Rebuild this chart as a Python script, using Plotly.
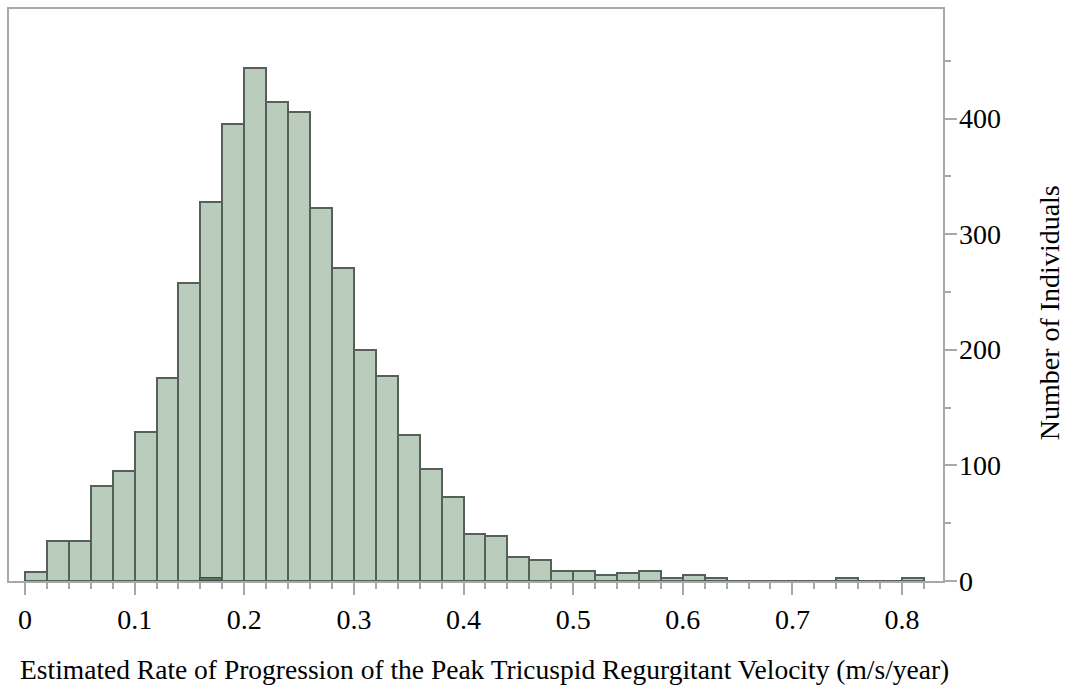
import plotly.graph_objects as go

bin_left = [0.00, 0.02, 0.04, 0.06, 0.08, 0.10, 0.12, 0.14, 0.16, 0.18,
            0.20, 0.22, 0.24, 0.26, 0.28, 0.30, 0.32, 0.34, 0.36, 0.38,
            0.40, 0.42, 0.44, 0.46, 0.48, 0.50, 0.52, 0.54, 0.56, 0.58,
            0.60, 0.62, 0.64, 0.66, 0.68, 0.70, 0.72, 0.74, 0.76, 0.78,
            0.80]
counts = [8, 35, 35, 82, 95, 129, 176, 258, 328, 395,
          444, 414, 406, 323, 271, 200, 177, 126, 97, 73,
          41, 39, 21, 18, 9, 9, 5, 7, 9, 3,
          5, 3, 0, 0, 0, 0, 0, 3, 0, 0,
          3]
highlight_left = [0.16]
highlight_counts = [3]
bin_width = 0.02

x_tickvals = [0, 0.1, 0.2, 0.3, 0.4, 0.5, 0.6, 0.7, 0.8]
x_ticktext = ["0", "0.1", "0.2", "0.3", "0.4", "0.5", "0.6", "0.7", "0.8"]
y_tickvals = [0, 100, 200, 300, 400]
y_ticktext = ["0", "100", "200", "300", "400"]

x_title = "Estimated Rate of Progression of the Peak Tricuspid Regurgitant Velocity (m/s/year)"
y_title = "Number of Individuals"

FONT = "Liberation Serif, Times New Roman, serif"
AXIS_GREY = "#a8a8a8"
PLOT_W = 1072 - 8 - 129

fig = go.Figure()
fig.add_trace(go.Bar(
    x=bin_left, y=counts, width=bin_width, offset=0,
    marker=dict(color="#bacdbc", line=dict(color="#56605a", width=2)),
    hoverinfo="x+y", showlegend=False,
))
fig.add_trace(go.Bar(
    x=highlight_left, y=highlight_counts, width=bin_width, offset=0,
    marker=dict(color="#4f7a57", line=dict(color="#3f4a42", width=1)),
    showlegend=False,
))

annotations = [
    dict(text=x_title, xref="paper", yref="paper",
         x=0.5086, y=-0.155, xanchor="center", yanchor="middle",
         showarrow=False, font=dict(family=FONT, size=27.5, color="black")),
    dict(text=y_title, xref="paper", yref="paper", textangle=-90,
         x=1.1144, y=0.4695, xanchor="center", yanchor="middle",
         showarrow=False, font=dict(family=FONT, size=28, color="black")),
]
for val, txt in zip(y_tickvals, y_ticktext):
    annotations.append(dict(
        text=txt, xref="paper", yref="y", x=1 + 14 / PLOT_W, y=val,
        xanchor="left", yanchor="middle", showarrow=False,
        font=dict(family=FONT, size=28, color="black"),
    ))

fig.update_layout(
    width=1072, height=688,
    margin=dict(l=8, r=129, t=7, b=107),
    paper_bgcolor="white", plot_bgcolor="white",
    barmode="overlay", bargap=0,
    font=dict(family=FONT, size=28, color="black"),
    xaxis=dict(
        range=[-0.0146, 0.8374],
        tickvals=x_tickvals, ticktext=x_ticktext,
        ticks="outside", ticklen=12, tickwidth=2, tickcolor=AXIS_GREY,
        minor=dict(dtick=0.02, tick0=0, ticks="outside", ticklen=6,
                   tickwidth=2, tickcolor=AXIS_GREY),
        showline=True, linecolor=AXIS_GREY, linewidth=2, mirror=True,
        showgrid=False, zeroline=False,
        tickfont=dict(family=FONT, size=28, color="black"),
    ),
    yaxis=dict(
        side="right",
        range=[0, 494.8],
        tickvals=y_tickvals, showticklabels=False,
        ticks="outside", ticklen=12, tickwidth=2, tickcolor=AXIS_GREY,
        minor=dict(dtick=50, tick0=0, ticks="outside", ticklen=6,
                   tickwidth=2, tickcolor=AXIS_GREY),
        showline=True, linecolor=AXIS_GREY, linewidth=2, mirror=True,
        showgrid=False, zeroline=False,
    ),
    annotations=annotations,
)

fig.write_html("out.html")
